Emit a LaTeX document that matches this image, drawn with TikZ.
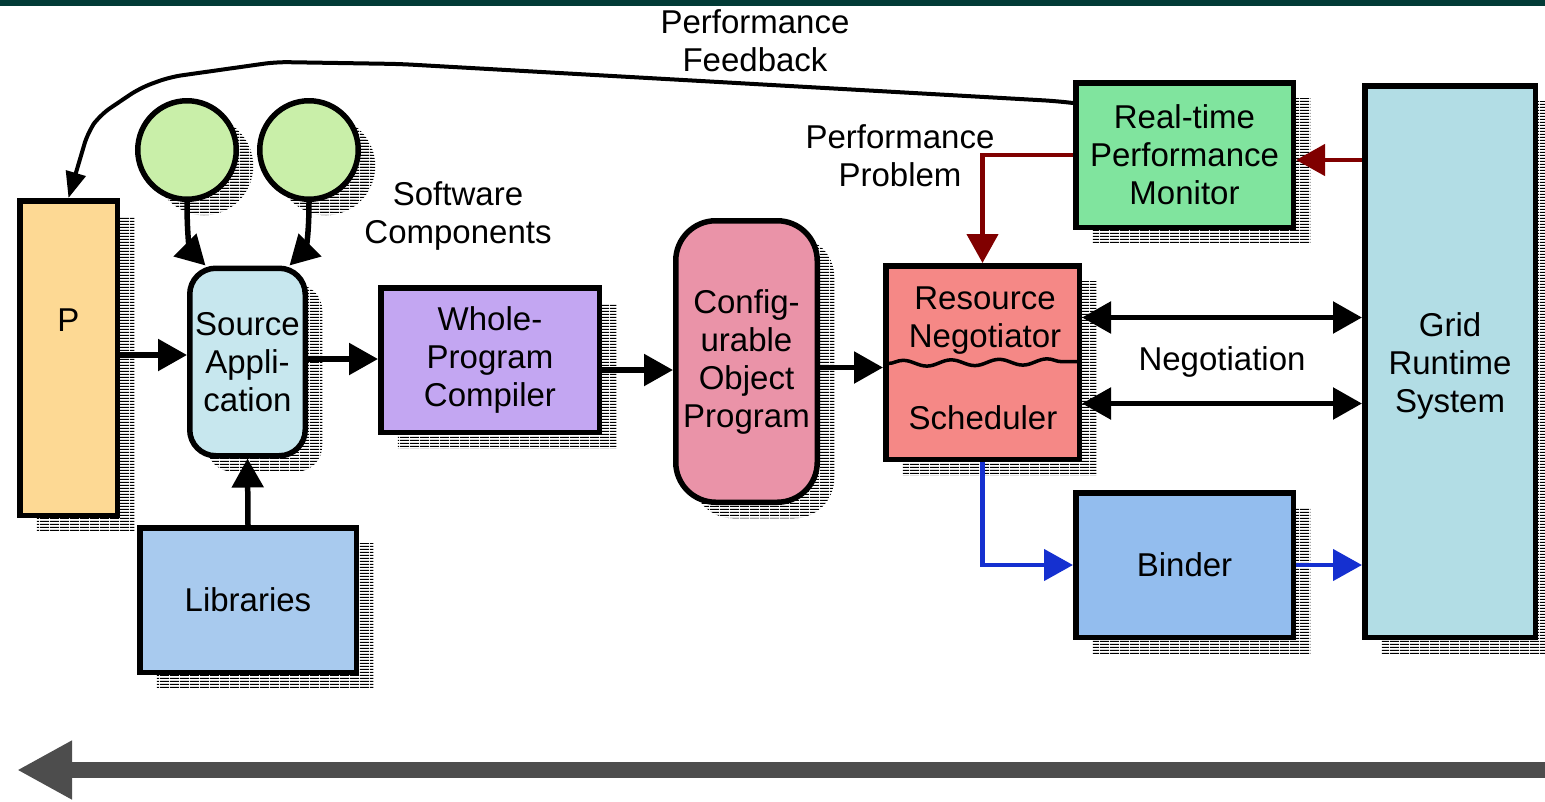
\documentclass[tikz,border=0pt]{standalone}
\usepackage{fontspec}
\setmainfont{Liberation Sans}
\usetikzlibrary{arrows.meta,shadows,patterns,decorations.pathmorphing,calc}

% hatched drop-shadow fill
\pgfdeclarepatternformonly{hatch}{\pgfpointorigin}{\pgfqpoint{10pt}{3pt}}{\pgfqpoint{10pt}{3pt}}{%
  \pgfpathrectangle{\pgfpointorigin}{\pgfqpoint{10pt}{1.6pt}}\pgfusepath{fill}}

\definecolor{barcol}{HTML}{023B36}
\definecolor{pcol}{HTML}{FDD994}
\definecolor{compcol}{HTML}{C9EFA9}
\definecolor{srccol}{HTML}{C7E7EE}
\definecolor{libcol}{HTML}{A8CAEE}
\definecolor{wpccol}{HTML}{C3A6F2}
\definecolor{cfgcol}{HTML}{EA93A8}
\definecolor{rescol}{HTML}{F58886}
\definecolor{moncol}{HTML}{80E49E}
\definecolor{gridcol}{HTML}{B2DDE5}
\definecolor{bindcol}{HTML}{93BDEE}
\definecolor{probcol}{HTML}{800000}
\definecolor{bindarr}{HTML}{1530D0}
\definecolor{flowcol}{HTML}{4D4D4D}

\tikzset{
  txt/.style={font=\fontsize{33}{38}\selectfont, align=center, inner sep=0pt},
  hatchshadow/.style={general shadow={shadow xshift=17pt, shadow yshift=-16pt, pattern=hatch, pattern color=black, draw=none}},
  blk/.style={draw=black, line width=5.5pt, inner sep=0pt, txt, hatchshadow},
  comp/.style={blk, circle, fill=compcol, minimum size=98.5pt,
    general shadow={shadow xshift=14pt, shadow yshift=-13pt, pattern=hatch, pattern color=black, draw=none}},
  tip/.tip={Triangle[length=29pt,width=31pt]},
  arr/.style={line width=5.5pt, -tip},
  darr/.style={line width=5.5pt, tip-tip},
  probarr/.style={draw=probcol, line width=4.5pt, -tip, color=probcol},
  bindline/.style={draw=bindarr, line width=4.5pt, -tip, color=bindarr},
}

\begin{document}
\begin{tikzpicture}[x=1pt, y=-1pt]
\useasboundingbox (0,0) rectangle (1545,801);
\fill[barcol] (0,0) rectangle (1545,6);

% blocks
\node[blk, fill=pcol, minimum width=97.5pt, minimum height=314.5pt] (p) at (68.5,358) {};
\node[txt] (pl) at (68.5,320) {P};
\node[comp] (c1) at (187,150) {};
\node[comp] (c2) at (309,150) {};
\node[blk, fill=srccol, rounded corners=26pt, minimum width=115.5pt, minimum height=187.5pt] (sa) at (247.5,362) {Source\\Appli-\\cation};
\node[blk, fill=libcol, minimum width=216.5pt, minimum height=144.5pt] (lib) at (248,600) {Libraries};
\node[blk, fill=wpccol, minimum width=218.5pt, minimum height=144.5pt] (wp) at (490,360) {Whole-\\Program\\Compiler};
\node[blk, fill=cfgcol, rounded corners=40pt, minimum width=141.5pt, minimum height=281.5pt] (cf) at (746.5,361.5) {Config-\\urable\\Object\\Program};
\node[blk, fill=rescol, minimum width=193.5pt, minimum height=193.5pt] (rn) at (982.5,362.5) {};
\node[txt] (rnt) at (985,321) {Resource\\Negotiator};
\node[txt] (sch) at (983,418) {Scheduler};
\node[blk, fill=moncol, minimum width=217.5pt, minimum height=144.5pt] (mon) at (1184.5,155) {Real-time\\Performance\\Monitor};
\node[blk, fill=bindcol, minimum width=217.5pt, minimum height=144.5pt] (bind) at (1184.5,565) {Binder};
\node[blk, fill=gridcol, minimum width=170.5pt, minimum height=551.5pt] (grid) at (1450,361.5) {};
\node[txt] (gt) at (1450,366) {Grid\\Runtime\\System};

% split between negotiator and scheduler
\draw[line width=3.5pt, decorate, decoration={snake, amplitude=3pt, segment length=48pt}]
  ([xshift=5pt, yshift=-1pt]rn.west) -- ([xshift=-3pt, yshift=1pt]rn.east);

% labels
\node[txt] (pf) at (755,41) {Performance\\Feedback};
\node[txt] (pp) at (900,156) {Performance\\Problem};
\node[txt] (sc) at (458,216) {Software\\Components};
\node[txt] (neg) at (1222,362) {Negotiation};

% compile flow
\draw[arr] ([yshift=3pt]p.east) -- ([yshift=3pt]p.east -| sa.west);
\draw[arr] ([yshift=3pt]sa.east) -- ([yshift=3pt]sa.east -| wp.west);
\draw[arr] ([yshift=-10pt]wp.east) -- ([yshift=-10pt]wp.east -| cf.west);
\draw[arr] ([yshift=-6pt]cf.east) -- ([yshift=-6pt]cf.east -| rn.west);
\draw[arr] (lib.north) -- (sa.south);
\draw[arr] (c1.south) .. controls +(0,45) and +(-14,-14) .. ([xshift=-42pt]sa.north);
\draw[arr] (c2.south) .. controls +(0,45) and +(14,-14) .. ([xshift=42pt]sa.north);

% negotiation with the grid
\draw[darr] ([yshift=45pt]rn.east) -- ([yshift=45pt]rn.east -| grid.west);
\draw[darr] ([yshift=-41pt]rn.east) -- ([yshift=-41pt]rn.east -| grid.west);

% monitoring
\draw[probarr] ([yshift=-5pt]grid.west |- mon.east) -- ([yshift=-5pt]mon.east);
\draw[probarr] (mon.west) -| (rn.north);

% binding
\draw[bindline] (rn.south) |- (bind.west);
\draw[bindline] (bind.east) -- (bind.east -| grid.west);

% feedback loop to the program
\coordinate (fbs) at ($(mon.north west)+(0,23)$);
\draw[line width=4pt, rounded corners=12pt, -{Triangle[length=26pt,width=20pt]}]
  (fbs) -- (1055,101) -- (400,64) -- (276,62) -- (170,77) -- (140,88) -- (100,115) -- (88,132) -- (p.north);

% time line
\coordinate (flowR) at (1545,770);
\coordinate (flowL) at (17,770);
\draw[flowcol, line width=16pt, -{Triangle[length=55pt,width=55pt]}] (flowR) -- (flowL);
\end{tikzpicture}
\end{document}
